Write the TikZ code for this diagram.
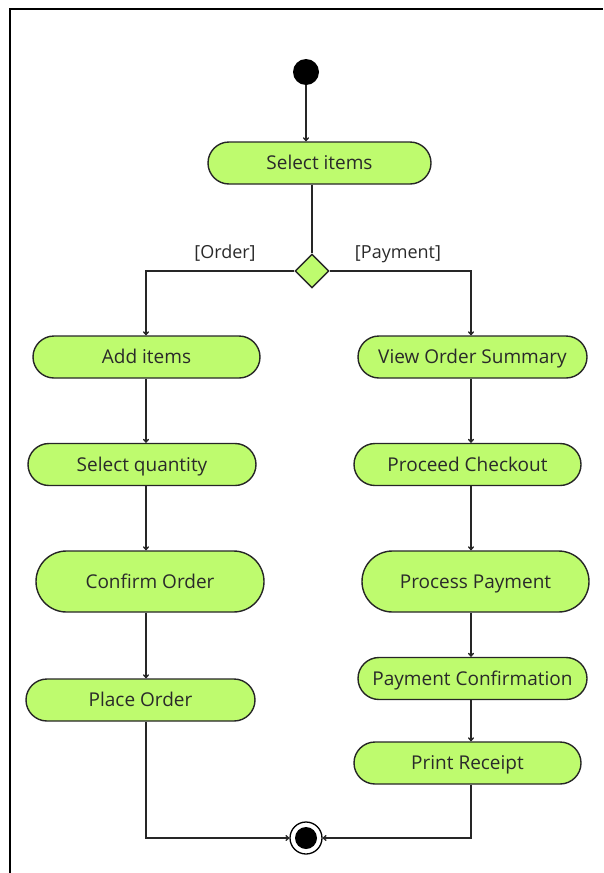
\documentclass[tikz,border=0pt]{standalone}
\usepackage{fontspec}
\setmainfont{Open Sans}
\usetikzlibrary{shapes.misc,shapes.geometric,arrows.meta}
\definecolor{actfill}{HTML}{BEFB6E}
\definecolor{edge}{HTML}{262626}
\definecolor{ink}{HTML}{2A2A2A}
\tikzset{
  act/.style={rounded rectangle, rounded rectangle arc length=180, draw=edge,
    line width=1.4pt, fill=actfill, text=ink, inner sep=0pt,
    text height=15pt, text depth=1.4pt,
    font=\fontsize{19}{22}\selectfont},
  small/.style={minimum height=42pt},
  tall/.style={minimum height=61pt},
  flow/.style={draw=edge, line width=1.3pt, -{To[length=4pt,width=6pt]}},
  plain/.style={draw=edge, line width=1.3pt},
  guard/.style={text=ink, font=\fontsize{18}{21}\selectfont, inner sep=0pt,
    text height=14pt, text depth=1.3pt}
}
\begin{document}
\begin{tikzpicture}[x=1pt,y=-1pt]
\useasboundingbox (0,0) rectangle (603,873);
% frame
\draw[line width=1.5pt, black] (10,873) -- (10,9) -- (603,9);

% initial and final nodes
\node[circle, fill=black, minimum size=26pt, inner sep=0pt] (start) at (306,72) {};
\node[circle, draw=black, fill=white, line width=1.3pt, minimum size=32pt, inner sep=0pt] (end) at (306,838) {};
\fill[black] (end.center) circle (11pt);

% activities
\node[act, small, minimum width=223pt] (sel) at (319.5,163) {Select items};
\node[diamond, draw=edge, fill=actfill, line width=1.4pt, minimum width=34pt, minimum height=34pt, inner sep=0pt] (dec) at (312,271) {};

\node[act, small, minimum width=227pt] (add) at (146.5,357) {Add items};
\node[act, small, minimum width=228pt] (qty) at (142,464.5) {Select quantity};
\node[act, tall, minimum width=228pt] (conf) at (150,581.5) {Confirm Order};
\node[act, small, minimum width=229pt] (place) at (140.5,700) {Place Order};

\node[act, small, minimum width=229pt] (view) at (472.5,357) {View Order Summary};
\node[act, small, minimum width=227pt] (chk) at (467.5,464.5) {Proceed Checkout};
\node[act, tall, minimum width=227pt] (proc) at (475.5,581.5) {Process Payment};
\node[act, small, minimum width=229pt] (pconf) at (472.5,678.5) {Payment Confirmation};
\node[act, small, minimum width=227pt] (rec) at (467.5,763) {Print Receipt};

% guards
\node[guard] (g1) at (225,252) {[Order]};
\node[guard] (g2) at (398,252) {[Payment]};

% column lines
\coordinate (lx) at (146,0);
\coordinate (rx) at (471,0);

% connectors
\draw[flow] (start) -- (start |- sel.north);
\draw[plain] (dec.north |- sel.south) -- (dec.north);
\draw[flow] (dec.west) -| (lx |- add.north);
\draw[flow] (dec.east) -| (rx |- view.north);

\draw[flow] (lx |- add.south) -- (lx |- qty.north);
\draw[flow] (lx |- qty.south) -- (lx |- conf.north);
\draw[flow] (lx |- conf.south) -- (lx |- place.north);
\draw[flow] (lx |- place.south) |- (end.west);

\draw[flow] (rx |- view.south) -- (rx |- chk.north);
\draw[flow] (rx |- chk.south) -- (rx |- proc.north);
\draw[flow] (rx |- proc.south) -- (rx |- pconf.north);
\draw[flow] (rx |- pconf.south) -- (rx |- rec.north);
\draw[flow] (rx |- rec.south) |- (end.east);
\end{tikzpicture}
\end{document}
